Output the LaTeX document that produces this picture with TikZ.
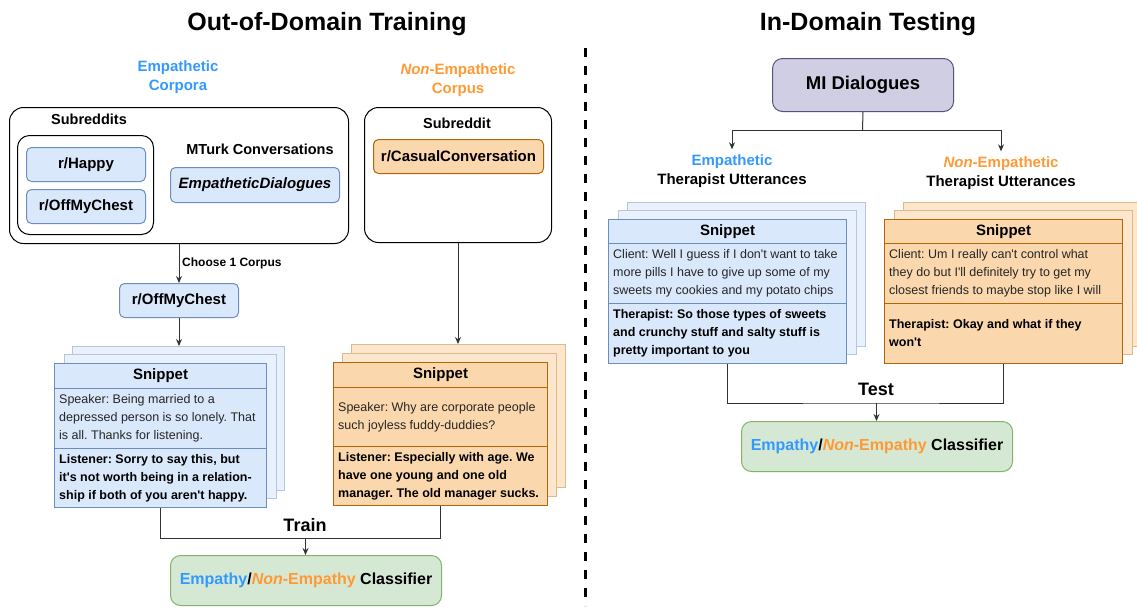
\documentclass[tikz,border=0pt]{standalone}
\usepackage{fontspec}
\setmainfont{Liberation Sans}[Ligatures=TeXOff]
\usetikzlibrary{arrows.meta}

\definecolor{bluefill}{HTML}{DAE8FC}
\definecolor{bluedraw}{HTML}{6C8EBF}
\definecolor{orgfill}{HTML}{FAD7AC}
\definecolor{orgdraw}{HTML}{B46504}
\definecolor{grnfill}{HTML}{D5E8D4}
\definecolor{grndraw}{HTML}{82B366}
\definecolor{purfill}{HTML}{D0CEE2}
\definecolor{purdraw}{HTML}{56517E}
\definecolor{emptxt}{HTML}{3399FF}
\definecolor{nontxt}{HTML}{FF9933}

\newcommand\fs[2]{\fontsize{#1}{#2}\selectfont}
\newcommand\clsname{{\color{emptxt}Empathy}/{\color{nontxt}\itshape Non}{\color{nontxt}-Empathy} Classifier}
\frenchspacing

\begin{document}
\begin{tikzpicture}[x=1pt,y=-1pt,
  every node/.style={inner sep=0pt, font=\fs{12.5}{18}},
  % rect={left}{top}{width}{height}
  rect/.style n args={4}{anchor=north west, at={(#1,#2)}, minimum width=#3pt, minimum height=#4pt},
  title/.style={font=\bfseries\fs{25}{28}, anchor=base},
  divider/.style={line width=3pt, dash pattern=on 9pt off 9pt},
  link/.style={line width=1pt, draw=black!80},
  arr/.style={link, -{Stealth[length=7pt,width=6pt]}},
  area/.style={draw=black, line width=1pt, rounded corners=14pt},
  lbl/.style={align=center, font=\bfseries\fs{15}{19}},
  hdr/.style={font=\bfseries\fs{14.5}{18}},
  bluebox/.style={draw=bluedraw, fill=bluefill, line width=1pt, rounded corners=5pt, font=\bfseries\fs{15}{18}},
  orgbox/.style={draw=orgdraw, fill=orgfill, line width=1pt, rounded corners=5pt, font=\bfseries\fs{15}{18}},
  grnbox/.style={draw=grndraw, fill=grnfill, line width=1pt, rounded corners=10pt, font=\bfseries\fs{16}{18}},
  purbox/.style={draw=purdraw, fill=purfill, line width=1pt, rounded corners=10pt, font=\bfseries\fs{18.5}{20}},
  bsec/.style={draw=bluedraw, fill=bluefill, line width=1pt, font=\bfseries\fs{15}{18}},
  osec/.style={draw=orgdraw, fill=orgfill, line width=1pt, font=\bfseries\fs{15}{18}},
  bback/.style={draw=bluedraw!50!white, fill=bluefill!60!white, line width=1pt},
  oback/.style={draw=orgdraw!45!white, fill=orgfill!60!white, line width=1pt},
  reg/.style={anchor=west, align=left, text=black!85, font=\fs{12.5}{18}},
  bld/.style={anchor=west, align=left, font=\bfseries\fs{12.5}{18}},
  big/.style={font=\bfseries\fs{18}{20}},
  small/.style={font=\bfseries\fs{12}{14}}
]
\useasboundingbox (0,0) rectangle (1137,606);

% headings and divider
\node[title] (ttrain) at (327,30) {Out-of-Domain Training};
\node[title] (ttest) at (868,30) {In-Domain Testing};
\coordinate (dtop) at (585,48);
\coordinate (dbot) at (585,606);
\draw[divider] (dtop) -- (dbot);

% ---------- training side ----------
\node[lbl, text=emptxt] (ecl) at (178,77) {Empathetic\\Corpora};
\node[lbl, text=nontxt] (ncl) at (458,80) {{\itshape Non}-Empathetic\\Corpus};

\node[area, rect={9}{107}{339}{136}] (emp) {};
\node[hdr] (subs) at (89,119) {Subreddits};
\node[area, rounded corners=12pt, rect={17}{135}{136}{99}] (subbox) {};
\node[bluebox, rect={26}{147}{119}{34}] (happy) {r/Happy};
\node[bluebox, rect={26}{189}{119}{34}] (omc) {r/OffMyChest};
\node[hdr] (mturk) at (260,149) {MTurk Conversations};
\node[bluebox, rect={170}{167}{169}{35}, font=\bfseries\itshape\fs{15}{18}] (ed) {EmpatheticDialogues};

\node[area, rect={364}{107}{187}{135}] (non) {};
\node[hdr] (sub) at (457,123) {Subreddit};
\node[orgbox, rect={373}{139}{170}{34}] (cc) {r/CasualConversation};

\node[bluebox, rect={119}{283}{119}{34}] (omc2) {r/OffMyChest};
\draw[arr] (emp.south) -- (omc2.north);
\node[small, anchor=west] (choose) at (182,263) {Choose 1 Corpus};

% empathetic snippet stack
\node[bback, rect={72}{346}{212}{144}] (l1b2) {};
\node[bback, rect={64}{354}{212}{144}] (l1b1) {};
\node[bsec, rect={54}{363}{212}{25}] (l1h) {Snippet};
\node[bsec, rect={54}{388}{212}{60}] (l1s) {};
\node[reg] (l1st) at ([xshift=5pt]l1s.west) {Speaker: Being married to a\\depressed person is so lonely. That\\is all. Thanks for listening.};
\node[bsec, rect={54}{448}{212}{59}] (l1l) {};
\node[bld] (l1lt) at ([xshift=5pt]l1l.west) {Listener: Sorry to say this, but\\it's not worth being in a relation-\\ship if both of you aren't happy.};
\draw[arr] (omc2.south) -- (omc2.south |- l1b2.north);

% non-empathetic snippet stack
\node[oback, rect={351}{344}{214}{143}] (l2b2) {};
\node[oback, rect={342}{353}{214}{143}] (l2b1) {};
\node[osec, rect={333}{362}{214}{25}] (l2h) {Snippet};
\node[osec, rect={333}{387}{214}{59}] (l2s) {};
\node[reg] (l2st) at ([xshift=5pt]l2s.west) {Speaker: Why are corporate people\\such joyless fuddy-duddies?};
\node[osec, rect={333}{446}{214}{59}] (l2l) {};
\node[bld] (l2lt) at ([xshift=5pt]l2l.west) {Listener: Especially with age. We\\have one young and one old\\manager. The old manager sucks.};
\draw[arr] (non.south) -- (non.south |- l2b2.north);

% training join
\node[grnbox, rect={170}{555}{271}{50}] (cls1) {\clsname};
\coordinate (trj) at (305.5,538);
\draw[link] (l1l.south) |- (trj) -| (l2l.south);
\draw[arr] (trj) -- (trj |- cls1.north);
\node[big] (train) at (305,525) {Train};

% ---------- testing side ----------
\node[purbox, rect={772}{58}{181}{53}] (mi) {MI Dialogues};
\coordinate (split) at (862.5,130);
\node[lbl, inner ysep=5pt] (etu) at (732,171) {\textcolor{emptxt}{Empathetic}\\Therapist Utterances};
\node[lbl, inner ysep=5pt] (netu) at (1001,173) {\textcolor{nontxt}{{\itshape Non}-Empathetic}\\Therapist Utterances};
\draw[link] (mi.south) -- (split);
\draw[arr] (split) -| (etu.north);
\draw[arr] (split) -| (netu.north);

% empathetic therapist snippet
\node[bback, rect={627}{202}{238}{144}] (r1b2) {};
\node[bback, rect={618}{210}{238}{144}] (r1b1) {};
\node[bsec, rect={608}{219}{238}{24}] (r1h) {Snippet};
\node[bsec, rect={608}{243}{238}{60}] (r1c) {};
\node[reg] (r1ct) at ([xshift=5pt]r1c.west) {Client: Well I guess if I don't want to take\\more pills I have to give up some of my\\sweets my cookies and my potato chips};
\node[bsec, rect={608}{303}{238}{60}] (r1t) {};
\node[bld] (r1tt) at ([xshift=5pt]r1t.west) {Therapist: So those types of sweets\\and crunchy stuff and salty stuff is\\pretty important to you};

% non-empathetic therapist snippet
\node[oback, rect={903}{202}{238}{144}] (r2b2) {};
\node[oback, rect={894}{210}{238}{144}] (r2b1) {};
\node[osec, rect={884}{219}{238}{24}] (r2h) {Snippet};
\node[osec, rect={884}{243}{238}{60}] (r2c) {};
\node[reg] (r2ct) at ([xshift=5pt]r2c.west) {Client: Um I really can't control what\\they do but I'll definitely try to get my\\closest friends to maybe stop like I will};
\node[osec, rect={884}{303}{238}{60}] (r2t) {};
\node[bld] (r2tt) at ([xshift=5pt]r2t.west) {Therapist: Okay and what if they\\won't};

% testing join
\node[grnbox, rect={741}{421}{271}{50}] (cls2) {\clsname};
\coordinate (tsj) at (876.5,403);
\draw[link] (r1t.south) |- (tsj) -| (r2t.south);
\draw[arr] (tsj) -- (tsj |- cls2.north);
\node[big] (test) at (876,389) {Test};
\end{tikzpicture}
\end{document}
